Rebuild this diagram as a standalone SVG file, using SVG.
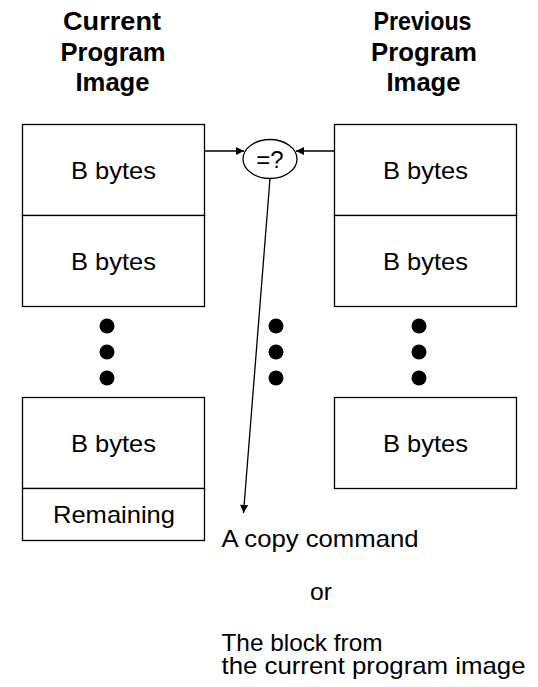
<svg xmlns="http://www.w3.org/2000/svg" width="538" height="687" viewBox="0 0 538 687">
  <style>
    .box { fill: #fff; stroke: #000; stroke-width: 1.3; }
    .hdr { font-family: "Liberation Sans", Arial, sans-serif; font-weight: bold; font-size: 25px; text-anchor: middle; fill: #000; }
    .lbl { font-family: "Liberation Sans", Arial, sans-serif; font-size: 24px; text-anchor: middle; fill: #000; }
    .note { font-family: "Liberation Sans", Arial, sans-serif; font-size: 24px; fill: #000; }
    .edge { fill: none; stroke: #000; stroke-width: 1.3; }
    .dot { fill: #000; }
  </style>
  <defs>
    <marker id="arrow" viewBox="0 0 10 10" refX="10" refY="5" markerWidth="10" markerHeight="8" markerUnits="userSpaceOnUse" orient="auto">
      <path d="M0,0 L10,5 L0,10 Z" fill="#000"/>
    </marker>
  </defs>
  <rect width="538" height="687" fill="#fff"/>

  <!-- column headings -->
  <g id="heading-current">
    <text class="hdr" x="112" y="30" textLength="98" lengthAdjust="spacingAndGlyphs">Current</text>
    <text class="hdr" x="113" y="61" textLength="105" lengthAdjust="spacingAndGlyphs">Program</text>
    <text class="hdr" x="112.5" y="91" textLength="74" lengthAdjust="spacingAndGlyphs">Image</text>
  </g>
  <g id="heading-previous">
    <text class="hdr" x="422.5" y="30" textLength="98" lengthAdjust="spacingAndGlyphs">Previous</text>
    <text class="hdr" x="424" y="61" textLength="106" lengthAdjust="spacingAndGlyphs">Program</text>
    <text class="hdr" x="423.5" y="91" textLength="74" lengthAdjust="spacingAndGlyphs">Image</text>
  </g>

  <!-- current program image blocks -->
  <g id="cur-block-1">
    <rect class="box" x="22.5" y="124.5" width="182" height="91"/>
    <text class="lbl" x="113.5" y="178.5" textLength="85" lengthAdjust="spacingAndGlyphs">B bytes</text>
  </g>
  <g id="cur-block-2">
    <rect class="box" x="22.5" y="215.5" width="182" height="91"/>
    <text class="lbl" x="113.5" y="269.5" textLength="85" lengthAdjust="spacingAndGlyphs">B bytes</text>
  </g>
  <g id="cur-dots">
    <circle class="dot" cx="107" cy="326" r="7.5"/>
    <circle class="dot" cx="107" cy="352" r="7.5"/>
    <circle class="dot" cx="107" cy="378" r="7.5"/>
  </g>
  <g id="cur-block-n">
    <rect class="box" x="22.5" y="397.5" width="182" height="91"/>
    <text class="lbl" x="113.5" y="451.5" textLength="85" lengthAdjust="spacingAndGlyphs">B bytes</text>
  </g>
  <g id="cur-remaining">
    <rect class="box" x="22.5" y="488.5" width="182" height="52"/>
    <text class="lbl" x="114" y="523" textLength="122" lengthAdjust="spacingAndGlyphs">Remaining</text>
  </g>

  <!-- previous program image blocks -->
  <g id="prev-block-1">
    <rect class="box" x="334.5" y="124.5" width="182" height="91"/>
    <text class="lbl" x="425.5" y="178.5" textLength="85" lengthAdjust="spacingAndGlyphs">B bytes</text>
  </g>
  <g id="prev-block-2">
    <rect class="box" x="334.5" y="215.5" width="182" height="91"/>
    <text class="lbl" x="425.5" y="269.5" textLength="85" lengthAdjust="spacingAndGlyphs">B bytes</text>
  </g>
  <g id="prev-dots">
    <circle class="dot" cx="419" cy="326" r="7.5"/>
    <circle class="dot" cx="419" cy="352" r="7.5"/>
    <circle class="dot" cx="419" cy="378" r="7.5"/>
  </g>
  <g id="prev-block-n">
    <rect class="box" x="334.5" y="397.5" width="182" height="91"/>
    <text class="lbl" x="425.5" y="451.5" textLength="85" lengthAdjust="spacingAndGlyphs">B bytes</text>
  </g>

  <!-- comparison -->
  <g id="compare">
    <ellipse class="box" cx="270" cy="159" rx="27" ry="19.5"/>
    <text class="lbl" x="270" y="167.5">=?</text>
  </g>
  <g id="mid-dots">
    <circle class="dot" cx="276" cy="326" r="7.5"/>
    <circle class="dot" cx="276" cy="352" r="7.5"/>
    <circle class="dot" cx="276" cy="378" r="7.5"/>
  </g>

  <!-- result -->
  <g id="result">
    <text class="note" x="221.5" y="547" textLength="197" lengthAdjust="spacingAndGlyphs">A copy command</text>
    <text class="note" x="310" y="600" textLength="22" lengthAdjust="spacingAndGlyphs">or</text>
    <text class="note" x="221.5" y="651" textLength="161" lengthAdjust="spacingAndGlyphs">The block from</text>
    <text class="note" x="221.5" y="674" textLength="304" lengthAdjust="spacingAndGlyphs">the current program image</text>
  </g>

  <!-- connectors -->
  <g id="connectors">
    <line class="edge" x1="204.5" y1="151" x2="244" y2="151" marker-end="url(#arrow)"/>
    <line class="edge" x1="334.5" y1="151" x2="296" y2="151" marker-end="url(#arrow)"/>
    <line class="edge" x1="270" y1="178.5" x2="243.5" y2="513" marker-end="url(#arrow)"/>
  </g>
</svg>
